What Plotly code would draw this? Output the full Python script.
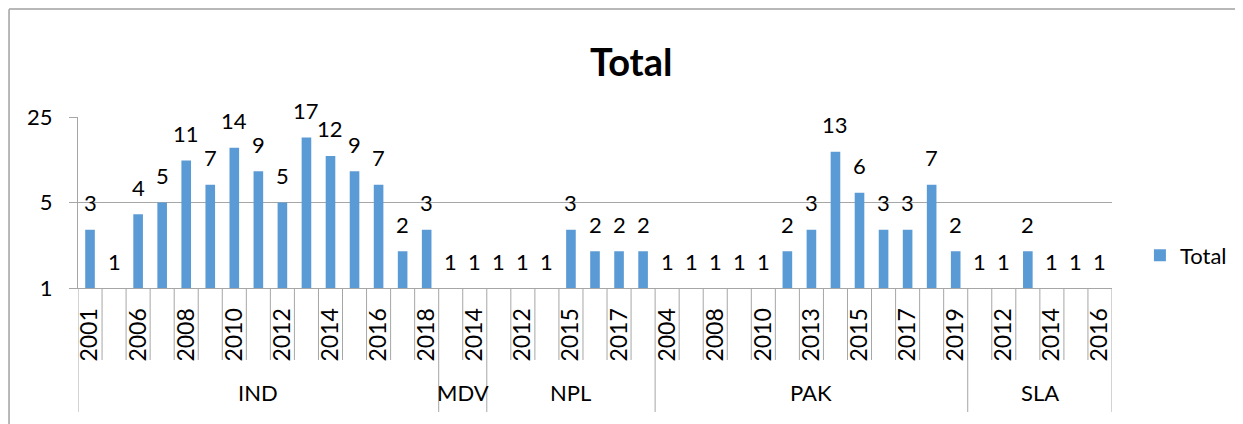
import math
import plotly.graph_objects as go

# ---- data ----
countries = ["IND", "MDV", "NPL", "PAK", "SLA"]
years_ind = [2001, 2005, 2006, 2007, 2008, 2009, 2010, 2011, 2012, 2013, 2014, 2015, 2016, 2017, 2018]
vals_ind = [3, 1, 4, 5, 11, 7, 14, 9, 5, 17, 12, 9, 7, 2, 3]
years_mdv = [2013, 2014]
vals_mdv = [1, 1]
years_npl = [2011, 2012, 2014, 2015, 2016, 2017, 2018]
vals_npl = [1, 1, 1, 3, 2, 2, 2]
years_pak = [2004, 2006, 2008, 2009, 2010, 2012, 2013, 2014, 2015, 2016, 2017, 2018, 2019]
vals_pak = [1, 1, 1, 1, 1, 2, 3, 13, 6, 3, 3, 7, 2]
years_sla = [2011, 2012, 2013, 2014, 2015, 2016]
vals_sla = [1, 1, 2, 1, 1, 1]
y_ticks = [1, 5, 25]

groups = [years_ind, years_mdv, years_npl, years_pak, years_sla]
group_vals = [vals_ind, vals_mdv, vals_npl, vals_pak, vals_sla]

BAR = "#5B9BD5"
GRID = "#A6A6A6"
FONT = "Lato, 'Open Sans', sans-serif"

years = [y for g in groups for y in g]
values = [v for g in group_vals for v in g]
xs = list(range(len(values)))

# group start positions
starts = [0]
for g in groups:
    starts.append(starts[-1] + len(g))

fig = go.Figure()
fig.add_trace(go.Bar(
    x=xs, y=values, name="Total",
    marker_color=BAR, marker_line_width=0,
))

# data labels above the bars
annotations = []
for x, v in zip(xs, values):
    annotations.append(dict(
        x=x, y=math.log10(v), xref="x", yref="y", text=str(v),
        showarrow=False, yanchor="middle", yshift=27,
        font=dict(size=22, color="black", family=FONT),
    ))

# country labels under the years
for i, c in enumerate(countries):
    annotations.append(dict(
        x=(starts[i] + starts[i + 1] - 1) / 2, y=-0.614, xref="x", yref="paper",
        text=c, showarrow=False, yanchor="middle",
        font=dict(size=22, color="black", family=FONT),
    ))

# category divider lines
shapes = []
for b in range(len(values) + 1):
    low = -0.725 if b in starts else -0.421
    shapes.append(dict(type="line", xref="x", yref="paper",
                       x0=b - 0.5, x1=b - 0.5, y0=0, y1=low,
                       line=dict(color=GRID, width=1)))

# chart area border (left and top edges visible in the crop)
shapes.append(dict(type="line", xref="paper", yref="paper",
                   x0=-0.0667, x1=-0.0667, y0=1.63, y1=-0.85,
                   line=dict(color="#A0A0A0", width=1.5)))
shapes.append(dict(type="line", xref="paper", yref="paper",
                   x0=-0.0667, x1=1.2, y0=1.632, y1=1.632,
                   line=dict(color="#A0A0A0", width=1.5)))

fig.update_layout(
    width=1243, height=424,
    margin=dict(l=70, r=139, t=109, b=144),
    plot_bgcolor="white", paper_bgcolor="white",
    font=dict(family=FONT, size=22, color="black"),
    title=dict(text="<b>Total</b>", x=0.535, xref="paper", xanchor="center",
               y=0.87, yref="container", yanchor="middle",
               font=dict(size=38, color="black", family=FONT)),
    bargap=0.6,
    showlegend=True,
    legend=dict(x=1.027, y=0.19, xanchor="left", yanchor="middle",
                font=dict(size=22, family=FONT), bgcolor="rgba(0,0,0,0)"),
    xaxis=dict(
        range=[-0.5, len(values) - 0.5],
        tickvals=xs[::2], ticktext=[str(y) for y in years[::2]],
        tickangle=-90, ticks="", showgrid=False,
        showline=True, linecolor=GRID, linewidth=1,
        ticklabelstandoff=10,
        tickfont=dict(size=23, family=FONT),
    ),
    yaxis=dict(
        type="log", range=[0, math.log10(25)],
        tickvals=y_ticks, ticktext=[str(t) for t in y_ticks],
        showgrid=True, gridcolor=GRID, gridwidth=1,
        ticks="outside", ticklen=8, tickcolor=GRID,
        showline=True, linecolor=GRID, linewidth=1,
        ticklabelstandoff=12,
        tickfont=dict(size=22, family=FONT),
        zeroline=False,
    ),
    annotations=annotations,
    shapes=shapes,
)

fig.write_html("out.html")
